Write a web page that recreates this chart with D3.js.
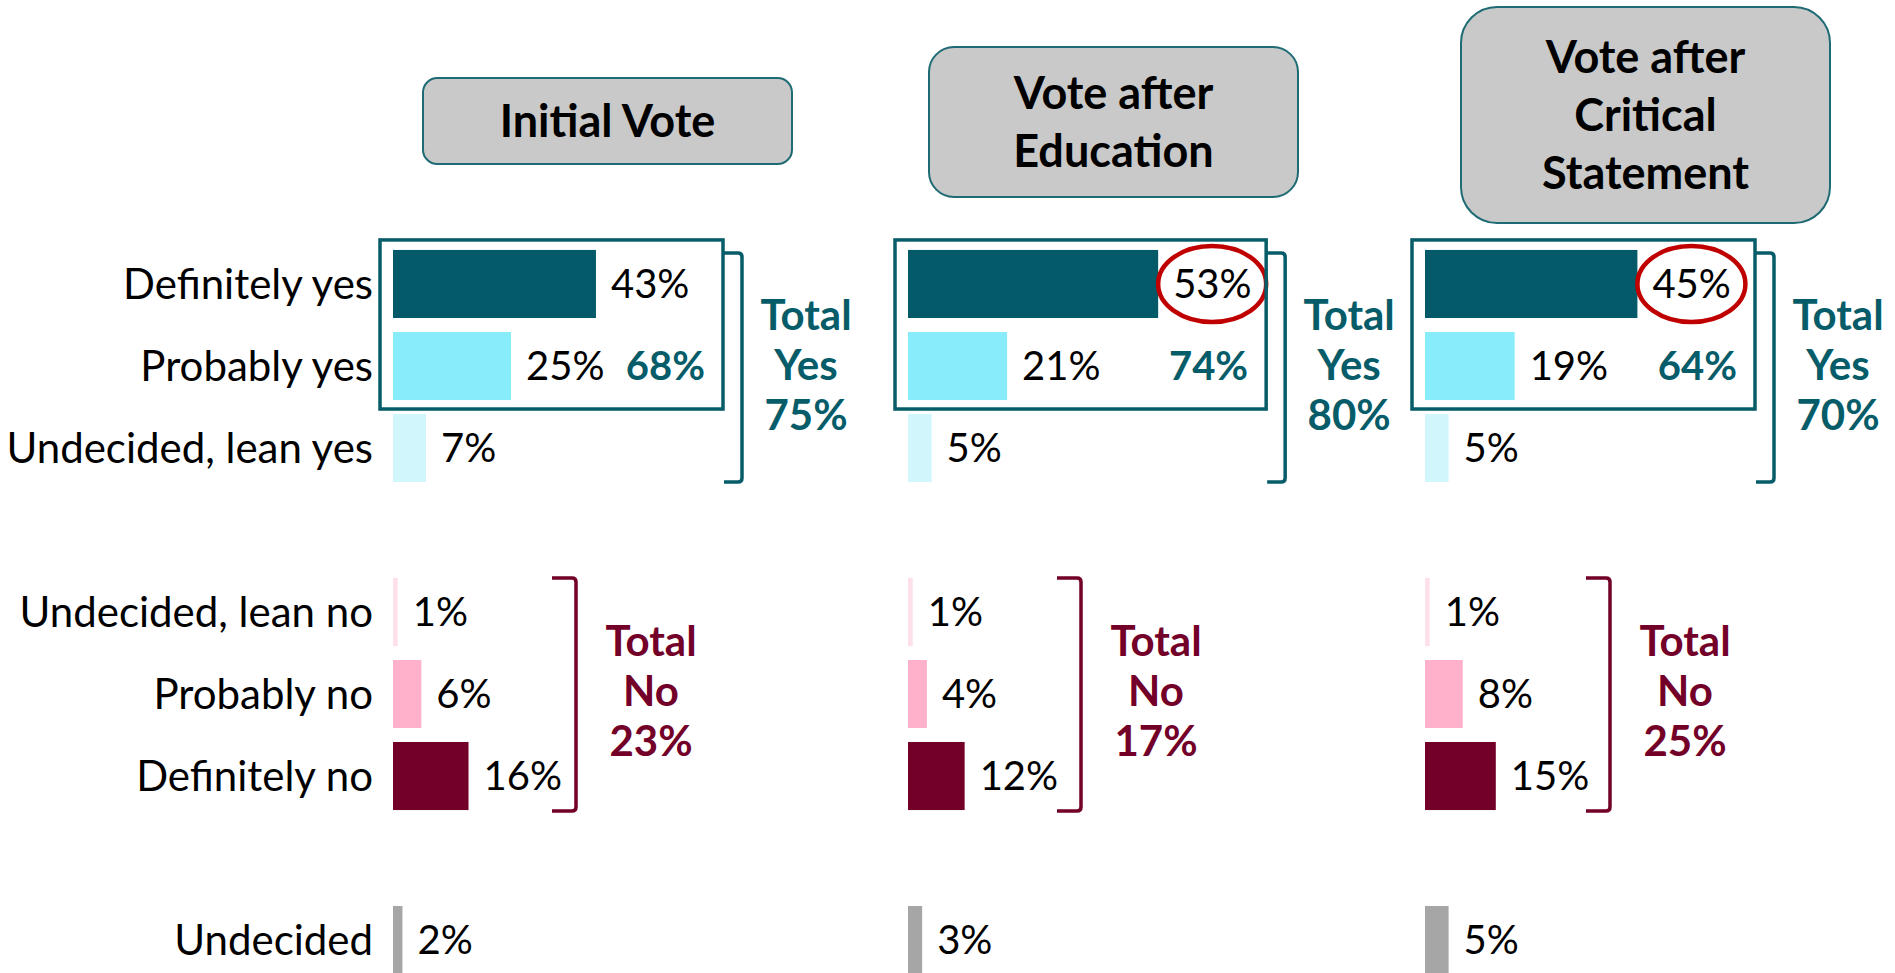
<!DOCTYPE html>
<html>
<head>
<meta charset="utf-8">
<script src="https://cdn.jsdelivr.net/npm/d3@7"></script>
<style>
	body { margin: 0; background: #fff; }
	svg { display: block; font-family: Lato, 'Open Sans', sans-serif; }
</style>
</head>
<body>
<div id="chart"></div>
<script>
// data
const panelTitles = [['Initial Vote'], ['Vote after', 'Education'], ['Vote after', 'Critical', 'Statement']]
const categories = ['Definitely yes', 'Probably yes', 'Undecided, lean yes', 'Undecided, lean no', 'Probably no', 'Definitely no', 'Undecided']
const initialVote = [43, 25, 7, 1, 6, 16, 2]
const afterEducation = [53, 21, 5, 1, 4, 12, 3]
const afterCritical = [45, 19, 5, 1, 8, 15, 5]
const topTwoYes = [68, 74, 64]
const totalYes = [75, 80, 70]
const totalNo = [23, 17, 25]
const circled = [false, true, true]

const series = [initialVote, afterEducation, afterCritical]

// layout
const width = 1895
const height = 973
const panelX = [393, 908, 1425]
const header = {
	x: [423, 929, 1461],
	top: [78, 47, 7],
	h: [86, 150, 216],
	w: 369,
	lineH: 58,
}
const noBracketX = [159, 149, 161]

const colors = {
	'Definitely yes': '#045a68',
	'Probably yes': '#88ecfb',
	'Undecided, lean yes': '#d1f7fc',
	'Undecided, lean no': '#fde0e9',
	'Probably no': '#ffb0cb',
	'Definitely no': '#730028',
	'Undecided': '#a6a6a6',
}
const teal = '#065c68'
const maroon = '#730028'

// blank slots between the yes / no / undecided groups
const slots = [...categories.slice(0, 3), 'gap-a', ...categories.slice(3, 6), 'gap-b', categories[6]]

const y = d3.scaleBand().domain(slots).range([236, 988]).paddingInner(0.17).paddingOuter(0.17)
const x = d3.scaleLinear().domain([0, 100]).range([0, 472])
const bw = y.bandwidth()

const svg = d3.select('#chart')
	.append('svg')
	.attr('width', width)
	.attr('height', height)

// headers
panelTitles.forEach((lines, i) => {
	const h = header.h[i]
	const g = svg.append('g').attr('class', 'header')
	g.append('rect')
		.attr('x', header.x[i])
		.attr('y', header.top[i])
		.attr('width', header.w)
		.attr('height', h)
		.attr('rx', Math.min(header.w, h) * 0.167)
		.attr('fill', '#c9c9c9')
		.attr('stroke', '#1f6b74')
		.attr('stroke-width', 2)
	const cy = header.top[i] + h / 2
	g.selectAll('text')
		.data(lines)
		.join('text')
		.attr('x', header.x[i] + header.w / 2)
		.attr('y', (d, j) => cy + (j - (lines.length - 1) / 2) * header.lineH)
		.attr('dy', '0.36em')
		.attr('text-anchor', 'middle')
		.attr('font-size', 45)
		.attr('font-weight', 700)
		.attr('fill', '#000')
		.text(d => d)
})

// category labels (left of first panel)
svg.append('g')
	.attr('transform', `translate(${panelX[0]},0)`)
	.selectAll('text')
	.data(categories)
	.join('text')
	.attr('x', -20)
	.attr('y', d => y(d) + bw / 2)
	.attr('dy', '0.36em')
	.attr('text-anchor', 'end')
	.attr('font-size', 42)
	.attr('fill', '#000')
	.text(d => d)

series.forEach((values, i) => {
	const rows = categories.map((c, k) => ({ cat: c, value: values[k] }))
	const g = svg.append('g').attr('transform', `translate(${panelX[i]},0)`)

	g.selectAll('rect.bar')
		.data(rows)
		.join('rect')
		.attr('class', 'bar')
		.attr('x', 0)
		.attr('y', d => y(d.cat))
		.attr('width', d => x(d.value))
		.attr('height', bw)
		.attr('fill', d => colors[d.cat])

	g.selectAll('text.value')
		.data(rows)
		.join('text')
		.attr('class', 'value')
		.attr('x', d => x(d.value) + 15)
		.attr('y', d => y(d.cat) + bw / 2)
		.attr('dy', '0.36em')
		.attr('font-size', 40)
		.attr('fill', '#000')
		.text(d => d.value + '%')

	const defYes = rows[0]
	if (circled[i]) {
		g.append('ellipse')
			.attr('cx', x(defYes.value) + 54)
			.attr('cy', y(defYes.cat) + bw / 2)
			.attr('rx', 54)
			.attr('ry', 38)
			.attr('fill', 'none')
			.attr('stroke', '#c00000')
			.attr('stroke-width', 4.5)
	}

	// box round the two strongest yes bars
	const boxRight = Math.max(330, x(defYes.value) + 108)
	const boxTop = y(categories[0]) - 10
	const boxBottom = y(categories[1]) + bw + 9
	g.append('rect')
		.attr('x', -13)
		.attr('y', boxTop)
		.attr('width', boxRight + 13)
		.attr('height', boxBottom - boxTop)
		.attr('fill', 'none')
		.attr('stroke', teal)
		.attr('stroke-width', 3.5)

	g.append('text')
		.attr('x', boxRight - 18)
		.attr('y', y(categories[1]) + bw / 2)
		.attr('dy', '0.36em')
		.attr('text-anchor', 'end')
		.attr('font-size', 40)
		.attr('font-weight', 700)
		.attr('fill', teal)
		.text(topTwoYes[i] + '%')

	// brackets
	const bracket = (x0, x1, y0, y1) => {
		const r = 4
		return `M${x0},${y0} H${x1 - r} Q${x1},${y0} ${x1},${y0 + r} V${y1 - r} Q${x1},${y1} ${x1 - r},${y1} H${x0}`
	}

	const yesTop = y(categories[0]) + 3
	const yesBottom = y(categories[2]) + bw
	g.append('path')
		.attr('d', bracket(boxRight + 1, boxRight + 19, yesTop, yesBottom))
		.attr('fill', 'none')
		.attr('stroke', teal)
		.attr('stroke-width', 3.5)

	const noTop = y(categories[3])
	const noBottom = y(categories[5]) + bw + 1
	const nx = noBracketX[i]
	g.append('path')
		.attr('d', bracket(nx, nx + 24, noTop, noBottom))
		.attr('fill', 'none')
		.attr('stroke', maroon)
		.attr('stroke-width', 3.5)

	const totalBlock = (cx, mid, lines, color) => {
		g.append('g')
			.selectAll('text')
			.data(lines)
			.join('text')
			.attr('x', cx)
			.attr('y', (d, j) => mid + (j - 1) * 50)
			.attr('dy', '0.36em')
			.attr('text-anchor', 'middle')
			.attr('font-size', 42)
			.attr('font-weight', 700)
			.attr('fill', color)
			.text(d => d)
	}

	totalBlock(boxRight + 83, (yesTop + yesBottom) / 2 - 3, ['Total', 'Yes', totalYes[i] + '%'], teal)
	totalBlock(nx + 24 + 75, (noTop + noBottom) / 2 - 4, ['Total', 'No', totalNo[i] + '%'], maroon)
})
</script>
</body>
</html>
